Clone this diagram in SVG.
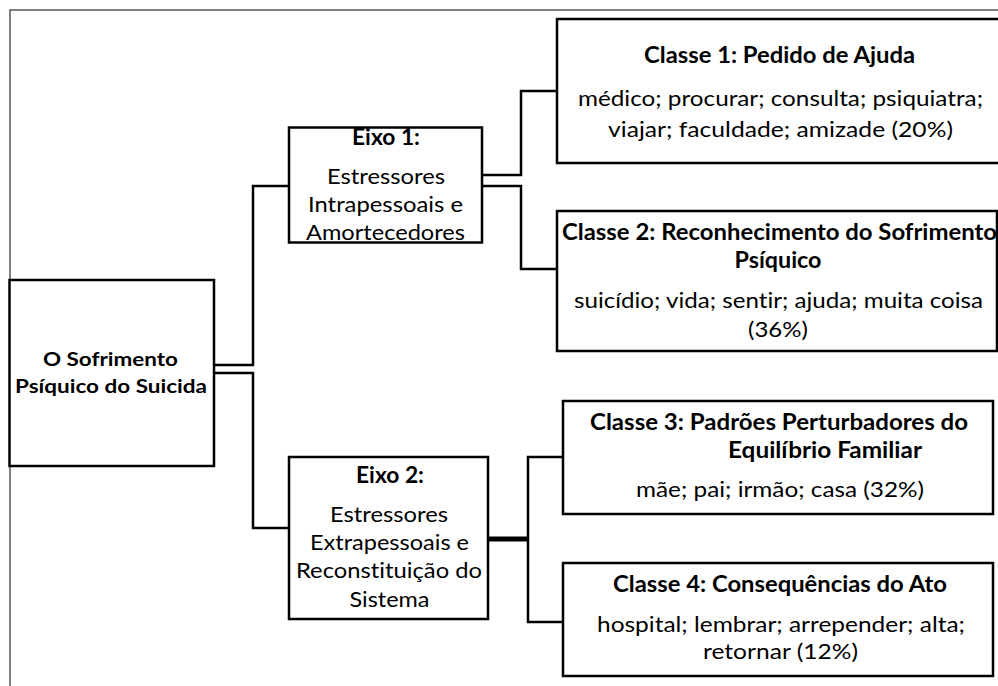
<svg xmlns="http://www.w3.org/2000/svg" width="998" height="686" viewBox="0 0 998 686">
<style>
.box{fill:#fff;stroke:#000;stroke-width:2.5}
.frame{fill:none;stroke:#555;stroke-width:1.5}
.conn{fill:none;stroke:#000;stroke-width:2.5}
.thick{fill:none;stroke:#000;stroke-width:5}
text{font-family:Lato,"Open Sans","Liberation Sans",sans-serif;fill:#000;text-anchor:middle;font-variant-ligatures:none}
.b{font-weight:bold}
.r22{font-size:22px}
.r19{font-size:19px}
</style>
<rect width="998" height="686" fill="#fff"/>
<path class="frame" d="M10 686 V10 H998"/>
<g id="connectors">
<path class="conn" d="M214 365 H253 V186 H289"/>
<path class="conn" d="M214 373 H253 V528 H289"/>
<path class="conn" d="M482 175 H521 V91 H557"/>
<path class="conn" d="M482 186 H521 V269 H557"/>
<path class="thick" d="M488 539 H528"/>
<path class="conn" d="M563 457 H528 V622 H563"/>
</g>
<g id="root">
<rect class="box" x="9.5" y="280" width="204.5" height="186"/>
<text class="b r19" x="110.5" y="366" textLength="135" lengthAdjust="spacingAndGlyphs">O Sofrimento</text>
<text class="b r19" x="111" y="393" textLength="192" lengthAdjust="spacingAndGlyphs">Psíquico do Suicida</text>
</g>
<g id="eixo1">
<rect class="box" x="289" y="127.5" width="193" height="115"/>
<text class="b r22" x="386" y="145" textLength="68" lengthAdjust="spacingAndGlyphs">Eixo 1:</text>
<text class="r22" x="386" y="184" textLength="118" lengthAdjust="spacingAndGlyphs">Estressores</text>
<text class="r22" x="385.5" y="212" textLength="155" lengthAdjust="spacingAndGlyphs">Intrapessoais e</text>
<text class="r22" x="385.5" y="240" textLength="159" lengthAdjust="spacingAndGlyphs">Amortecedores</text>
</g>
<g id="eixo2">
<rect class="box" x="289" y="457" width="199" height="162"/>
<text class="b r22" x="390" y="483" textLength="68" lengthAdjust="spacingAndGlyphs">Eixo 2:</text>
<text class="r22" x="389" y="522" textLength="118" lengthAdjust="spacingAndGlyphs">Estressores</text>
<text class="r22" x="389.5" y="550" textLength="159" lengthAdjust="spacingAndGlyphs">Extrapessoais e</text>
<text class="r22" x="389" y="578" textLength="186" lengthAdjust="spacingAndGlyphs">Reconstituição do</text>
<text class="r22" x="389.5" y="607" textLength="80" lengthAdjust="spacingAndGlyphs">Sistema</text>
</g>
<g id="classe1">
<rect class="box" x="557" y="19" width="450" height="144"/>
<text class="b r22" x="779.5" y="63" textLength="271" lengthAdjust="spacingAndGlyphs">Classe 1: Pedido de Ajuda</text>
<text class="r22" x="780.5" y="106" textLength="405" lengthAdjust="spacingAndGlyphs">médico; procurar; consulta; psiquiatra;</text>
<text class="r22" x="780.5" y="137" textLength="345" lengthAdjust="spacingAndGlyphs">viajar; faculdade; amizade (20%)</text>
</g>
<g id="classe2">
<rect class="box" x="557" y="211" width="440" height="140"/>
<text class="b r22" x="779.5" y="240" textLength="435" lengthAdjust="spacingAndGlyphs">Classe 2: Reconhecimento do Sofrimento</text>
<text class="b r22" x="778" y="268" textLength="87" lengthAdjust="spacingAndGlyphs">Psíquico</text>
<text class="r22" x="778.5" y="308" textLength="409" lengthAdjust="spacingAndGlyphs">suicídio; vida; sentir; ajuda; muita coisa</text>
<text class="r22" x="778" y="337" textLength="60" lengthAdjust="spacingAndGlyphs">(36%)</text>
</g>
<g id="classe3">
<rect class="box" x="563" y="401" width="430" height="113"/>
<text class="b r22" x="779" y="430" textLength="378" lengthAdjust="spacingAndGlyphs">Classe 3: Padrões Perturbadores do</text>
<text class="b r22" x="825" y="458" textLength="194" lengthAdjust="spacingAndGlyphs">Equilíbrio Familiar</text>
<text class="r22" x="780" y="497" textLength="288" lengthAdjust="spacingAndGlyphs">mãe; pai; irmão; casa (32%)</text>
</g>
<g id="classe4">
<rect class="box" x="563" y="563" width="430" height="113"/>
<text class="b r22" x="780" y="592" textLength="334" lengthAdjust="spacingAndGlyphs">Classe 4: Consequências do Ato</text>
<text class="r22" x="781" y="632" textLength="368" lengthAdjust="spacingAndGlyphs">hospital; lembrar; arrepender; alta;</text>
<text class="r22" x="780.5" y="659" textLength="155" lengthAdjust="spacingAndGlyphs">retornar (12%)</text>
</g>
</svg>
